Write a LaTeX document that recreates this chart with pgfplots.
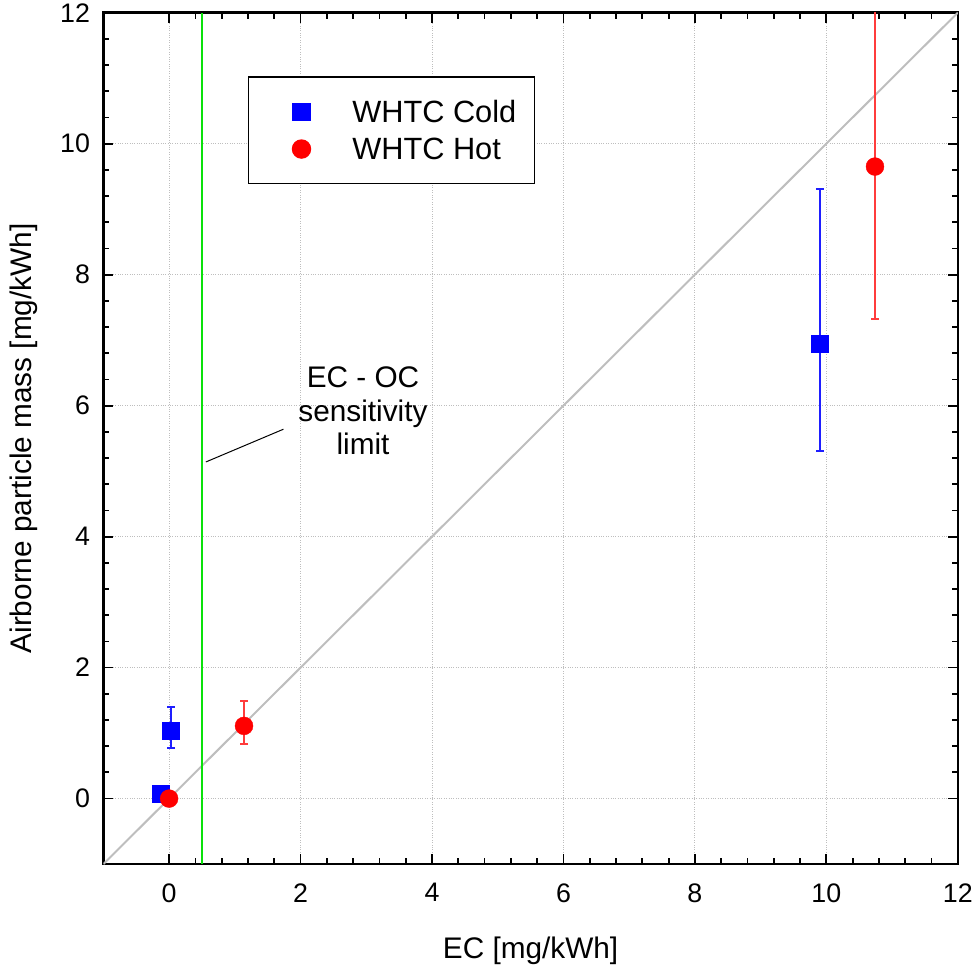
\documentclass[border=0pt]{standalone}
\usepackage{pgfplots}
\pgfplotsset{compat=1.18}
\usepackage{fontspec}
\setmainfont{Liberation Sans}
\definecolor{diag}{RGB}{190,190,190}
\definecolor{limitgreen}{RGB}{10,225,10}
\definecolor{gridc}{RGB}{190,190,190}
\definecolor{cblue}{RGB}{0,0,255}
\definecolor{ebblue}{RGB}{30,30,255}
\definecolor{cred}{RGB}{255,0,0}
\definecolor{ebred}{RGB}{255,60,60}
\begin{document}
\begin{tikzpicture}
\begin{axis}[
  width=858bp, height=855bp, scale only axis,
  xmin=-1, xmax=12, ymin=-1, ymax=12,
  xtick={0,2,...,12}, ytick={0,2,...,12},
  minor tick num=4,
  tick align=inside,
  major tick length=10bp, minor tick length=6bp,
  every tick/.style={black, line width=1.8bp},
  axis line style={line width=2.5bp},
  grid=major,
  major grid style={dotted, gridc, line width=1bp},
  /pgf/number format/assume math mode=true,
  tick label style={font=\fontsize{27}{32}\selectfont},
  label style={font=\fontsize{30}{36}\selectfont},
  xticklabel style={yshift=-16bp},
  yticklabel style={xshift=-10bp},
  xlabel={EC [mg/kWh]},
  ylabel={Airborne particle mass [mg/kWh]},
  xlabel style={yshift=-28bp},
  ylabel style={yshift=9bp, inner ysep=10bp},
  legend style={at={(axis cs:1.2,11.03)}, anchor=north west, draw=black,
    line width=1.5bp, font=\fontsize{31}{37}\selectfont,
    inner xsep=18bp, inner ysep=23bp, row sep=14bp,
    nodes={inner sep=0bp},
    cells={anchor=west}},
  legend image code/.code={\path[draw=none] (0bp,0bp) -- (86bp,0bp);
    \draw[#1] plot[only marks] coordinates {(35bp,0bp)};},
]
\addplot[diag, line width=2bp, forget plot] coordinates {(-1,-1) (12,12)};
\addplot[limitgreen, line width=2.5bp, forget plot] coordinates {(0.5,-1) (0.5,12)};
\addplot[cblue, only marks, mark=square*, mark size=8.5bp,
  error bars/.cd, y dir=both, y explicit,
  error bar style={draw=ebblue, line width=2bp},
  error mark options={rotate=90, mark size=4bp, draw=ebblue, line width=2bp}]
  coordinates {
  (-0.13,0.07) += (0,0) -= (0,0)
  (0.03,1.04) += (0,0.36) -= (0,0.26)
  (9.90,6.94) += (0,2.36) -= (0,1.64)
  };
\addlegendentry{WHTC Cold}
\addplot[cred, only marks, mark=*, mark size=9bp,
  error bars/.cd, y dir=both, y explicit,
  error bar style={draw=ebred, line width=2bp},
  error mark options={rotate=90, mark size=4bp, draw=ebred, line width=2bp}]
  coordinates {
  (0.0,0.0) += (0,0) -= (0,0)
  (1.14,1.11) += (0,0.38) -= (0,0.27)
  (10.74,9.65) += (0,3.0) -= (0,2.33)
  };
\addlegendentry{WHTC Hot}
\draw[black, line width=1bp] (axis cs:0.56,5.14) -- (axis cs:1.74,5.64);
\node[align=center, font=\fontsize{30}{34}\selectfont] at (axis cs:2.95,5.92)
  {EC - OC\\sensitivity\\limit};
\end{axis}
\end{tikzpicture}
\end{document}
